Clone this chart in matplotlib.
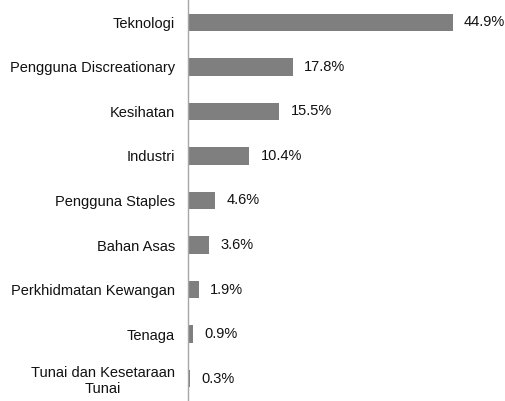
import matplotlib
matplotlib.use('Agg')
import matplotlib.pyplot as plt

# data
categories = ['Teknologi', 'Pengguna Discreationary', 'Kesihatan', 'Industri',
              'Pengguna Staples', 'Bahan Asas', 'Perkhidmatan Kewangan',
              'Tenaga', 'Tunai dan Kesetaraan\nTunai']
values = [44.9, 17.8, 15.5, 10.4, 4.6, 3.6, 1.9, 0.9, 0.3]

plt.rcParams['font.family'] = ['Liberation Sans', 'DejaVu Sans']

W, H, DPI = 505, 401, 100
fig = plt.figure(figsize=(W / DPI, H / DPI), dpi=DPI)
ax = fig.add_axes([188 / W, 0, 1 - 188 / W, 1])

pos = range(len(categories))
ax.barh(pos, values, height=0.39, color='#7f7f7f', zorder=2)

for y, v in zip(pos, values):
    ax.annotate(f'{v:.1f}%', (v, y), xytext=(8, 0), textcoords='offset points',
                va='center', ha='left', fontsize=10.5, color='#111111')

ax.set_xlim(0, 44.9 * (W - 188) / 265)
ax.set_ylim(len(categories) - 0.5, -0.5)
ax.set_yticks(list(pos))
ax.set_yticklabels(categories, fontsize=10.5, color='#111111',
                   multialignment='center')
ax.tick_params(axis='y', length=0, pad=9.5)
ax.set_xticks([])
for s in ['top', 'right', 'bottom']:
    ax.spines[s].set_visible(False)
ax.spines['left'].set_color('#a6a6a6')
ax.spines['left'].set_linewidth(1.0)

fig.savefig('out.png', dpi=DPI, facecolor='white')
